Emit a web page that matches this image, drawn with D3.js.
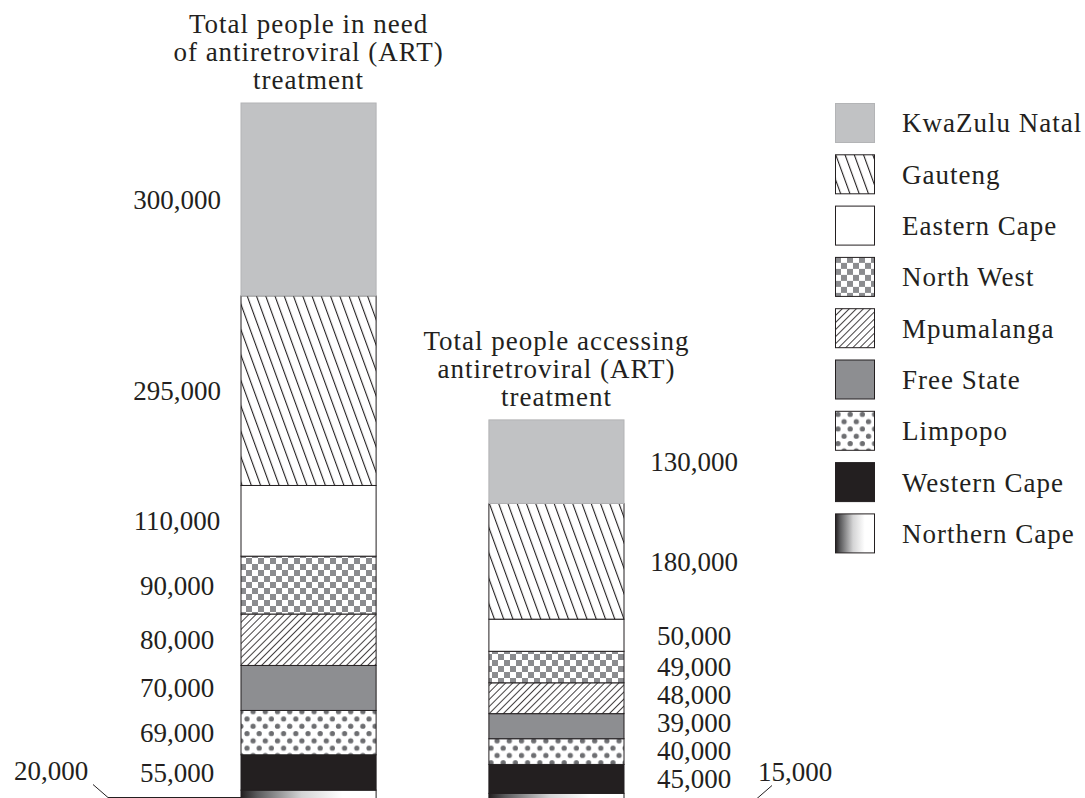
<!DOCTYPE html>
<meta charset="utf-8">
<!-- Load d3.js -->
<script src="https://d3js.org/d3.v7.min.js"></script>
<style>
  body { margin: 0; background: #fff; }
  text { font-family: "Liberation Serif", "Times New Roman", serif; fill: #231f20; }
</style>

<!-- Create a div where the graph will take place -->
<div id="my_dataviz"></div>

<script>
    // Data (top segment first)
    const provinces = ["KwaZulu Natal", "Gauteng", "Eastern Cape", "North West", "Mpumalanga",
                       "Free State", "Limpopo", "Western Cape", "Northern Cape"];
    const needART = [300000, 295000, 110000, 90000, 80000, 70000, 69000, 55000, 20000];
    const accessingART = [130000, 180000, 50000, 49000, 48000, 39000, 40000, 45000, 15000];
    const barKeys = ["need", "accessing"];
    const barTitles = [
        ["Total people in need", "of antiretroviral (ART)", "treatment"],
        ["Total people accessing", "antiretroviral (ART)", "treatment"]
    ];

    const width = 1085, height = 798;
    const ink = "#231f20";

    const svg = d3.select("#my_dataviz")
      .append("svg")
        .attr("width", width)
        .attr("height", height);

    // one row per bar, one column per province -> d3.stack
    const rows = barKeys.map((k, i) => {
        const r = {bar: k};
        const vals = i === 0 ? needART : accessingART;
        provinces.forEach((p, j) => r[p] = vals[j]);
        return r;
    });
    // stack from the bottom up (Northern Cape sits on the baseline)
    const series = d3.stack().keys(provinces.slice().reverse())(rows);

    // scales
    const x = d3.scaleBand().domain(barKeys).range([241, 624]).paddingInner(0.455).paddingOuter(0);
    const y = d3.scaleLinear().domain([0, d3.sum(needART)]).range([803, 103]);

    // patterns for the fills
    const defs = svg.append("defs");

    function hatch(id, angle, gap, sw) {
        const p = defs.append("pattern")
            .attr("id", id)
            .attr("patternUnits", "userSpaceOnUse")
            .attr("width", gap).attr("height", 10)
            .attr("patternTransform", `rotate(${angle})`);
        p.append("rect").attr("width", gap).attr("height", 10).attr("fill", "#fff");
        p.append("line")
            .attr("x1", sw / 2).attr("x2", sw / 2)
            .attr("y1", 0).attr("y2", 10)
            .attr("stroke", ink).attr("stroke-width", sw);
    }
    hatch("p-gauteng", -20, 8.7, 1.1);
    hatch("p-mpuma", 45, 5, 0.9);

    // checkerboard
    const pc = defs.append("pattern").attr("id", "p-checker")
        .attr("patternUnits", "userSpaceOnUse").attr("width", 12).attr("height", 12);
    pc.append("rect").attr("width", 12).attr("height", 12).attr("fill", "#fff");
    pc.append("rect").attr("width", 6).attr("height", 6).attr("fill", "#8b8c8f");
    pc.append("rect").attr("x", 6).attr("y", 6).attr("width", 6).attr("height", 6).attr("fill", "#8b8c8f");

    // dots
    const pd = defs.append("pattern").attr("id", "p-dots")
        .attr("patternUnits", "userSpaceOnUse").attr("width", 12.2).attr("height", 14.6);
    pd.append("rect").attr("width", 12.2).attr("height", 14.6).attr("fill", "#fff");
    pd.append("circle").attr("cx", 3).attr("cy", 3.6).attr("r", 2.6).attr("fill", "#6d6e71");
    pd.append("circle").attr("cx", 9.1).attr("cy", 10.9).attr("r", 2.6).attr("fill", "#6d6e71");

    // Northern Cape gradient, dark on the left
    const lg = defs.append("linearGradient").attr("id", "g-ncape")
        .attr("x1", "0%").attr("y1", "0%").attr("x2", "100%").attr("y2", "0%");
    lg.append("stop").attr("offset", "0%").attr("stop-color", ink);
    lg.append("stop").attr("offset", "12%").attr("stop-color", "#5a5a5c");
    lg.append("stop").attr("offset", "45%").attr("stop-color", "#d4d4d5");
    lg.append("stop").attr("offset", "75%").attr("stop-color", "#fff");

    const fills = {
        "KwaZulu Natal": "#c1c2c4",
        "Gauteng": "url(#p-gauteng)",
        "Eastern Cape": "#fff",
        "North West": "url(#p-checker)",
        "Mpumalanga": "url(#p-mpuma)",
        "Free State": "#8d8e91",
        "Limpopo": "url(#p-dots)",
        "Western Cape": ink,
        "Northern Cape": "url(#g-ncape)"
    };
    const strokeOf = k => k === "KwaZulu Natal" ? "#b3b4b6" : ink;

    // bars
    const barG = svg.append("g");
    series.forEach(s => {
        barG.append("g").selectAll("rect")
          .data(s)
          .join("rect")
            .attr("x", d => x(d.data.bar))
            .attr("y", d => y(d[1]))
            .attr("width", x.bandwidth())
            .attr("height", d => y(d[0]) - y(d[1]))
            .attr("fill", fills[s.key])
            .attr("stroke", strokeOf(s.key))
            .attr("stroke-width", 1);
    });

    // value labels
    const fmt = d3.format(",");
    const labelG = svg.append("g").attr("font-size", 27).attr("text-anchor", "middle");
    const minGap = 28;
    barKeys.forEach((k, i) => {
        const left = x(k), right = left + x.bandwidth();
        // segment middles, bottom first
        const segs = series.map(s => {
            const d = s[i];
            return {key: s.key, v: d[1] - d[0], cy: (y(d[0]) + y(d[1])) / 2};
        });
        // the labels beside the bar: push up when two get too close
        const side = segs.filter(s => s.key !== "Northern Cape");
        side.forEach((s, j) => {
            s.ly = s.cy;
            if (j > 0 && side[j - 1].ly - s.ly < minGap) s.ly = side[j - 1].ly - minGap;
        });
        side.forEach(s => {
            labelG.append("text")
                .attr("x", i === 0 ? left - 64 : right + 70)
                .attr("y", s.ly)
                .attr("dy", "0.35em")
                .text(fmt(s.v));
        });

        // small bottom segment: label off to the side with a leader line
        const nc = segs.find(s => s.key === "Northern Cape");
        const sgn = i === 0 ? -1 : 1;
        const edge = i === 0 ? left : right;
        const ly = Math.round(nc.cy) + 0.5;
        labelG.append("text")
            .attr("x", edge + sgn * (i === 0 ? 190 : 171))
            .attr("y", ly - 18)
            .text(fmt(nc.v));
        labelG.append("path")
            .attr("d", d3.line()([[edge + sgn * 148, ly - 13], [edge + sgn * 133, ly], [edge, ly]]))
            .attr("fill", "none")
            .attr("stroke", ink)
            .attr("stroke-width", 1);
    });

    // bar titles
    barKeys.forEach((k, i) => {
        const top = y(d3.sum(i === 0 ? needART : accessingART));
        const t = svg.append("text")
            .attr("x", x(k) + x.bandwidth() / 2)
            .attr("text-anchor", "middle")
            .attr("font-size", 27)
            .attr("letter-spacing", 1);
        barTitles[i].forEach((line, j) => {
            t.append("tspan")
                .attr("x", x(k) + x.bandwidth() / 2)
                .attr("y", top - 14 - (barTitles[i].length - 1 - j) * 27.8)
                .text(line);
        });
    });

    // legend
    const legend = svg.append("g").attr("transform", "translate(835, 103)");
    const item = legend.selectAll("g")
      .data(provinces)
      .join("g")
        .attr("transform", (d, i) => `translate(0, ${i * 51.3})`);
    item.append("rect")
        .attr("x", 0.5).attr("y", 0.5)
        .attr("width", 39).attr("height", 39)
        .attr("fill", d => fills[d])
        .attr("stroke", d => strokeOf(d))
        .attr("stroke-width", 1);
    item.append("text")
        .attr("x", 67)
        .attr("y", 20)
        .attr("dy", "0.35em")
        .attr("font-size", 27)
        .attr("letter-spacing", 1)
        .text(d => d);
</script>
</html>
